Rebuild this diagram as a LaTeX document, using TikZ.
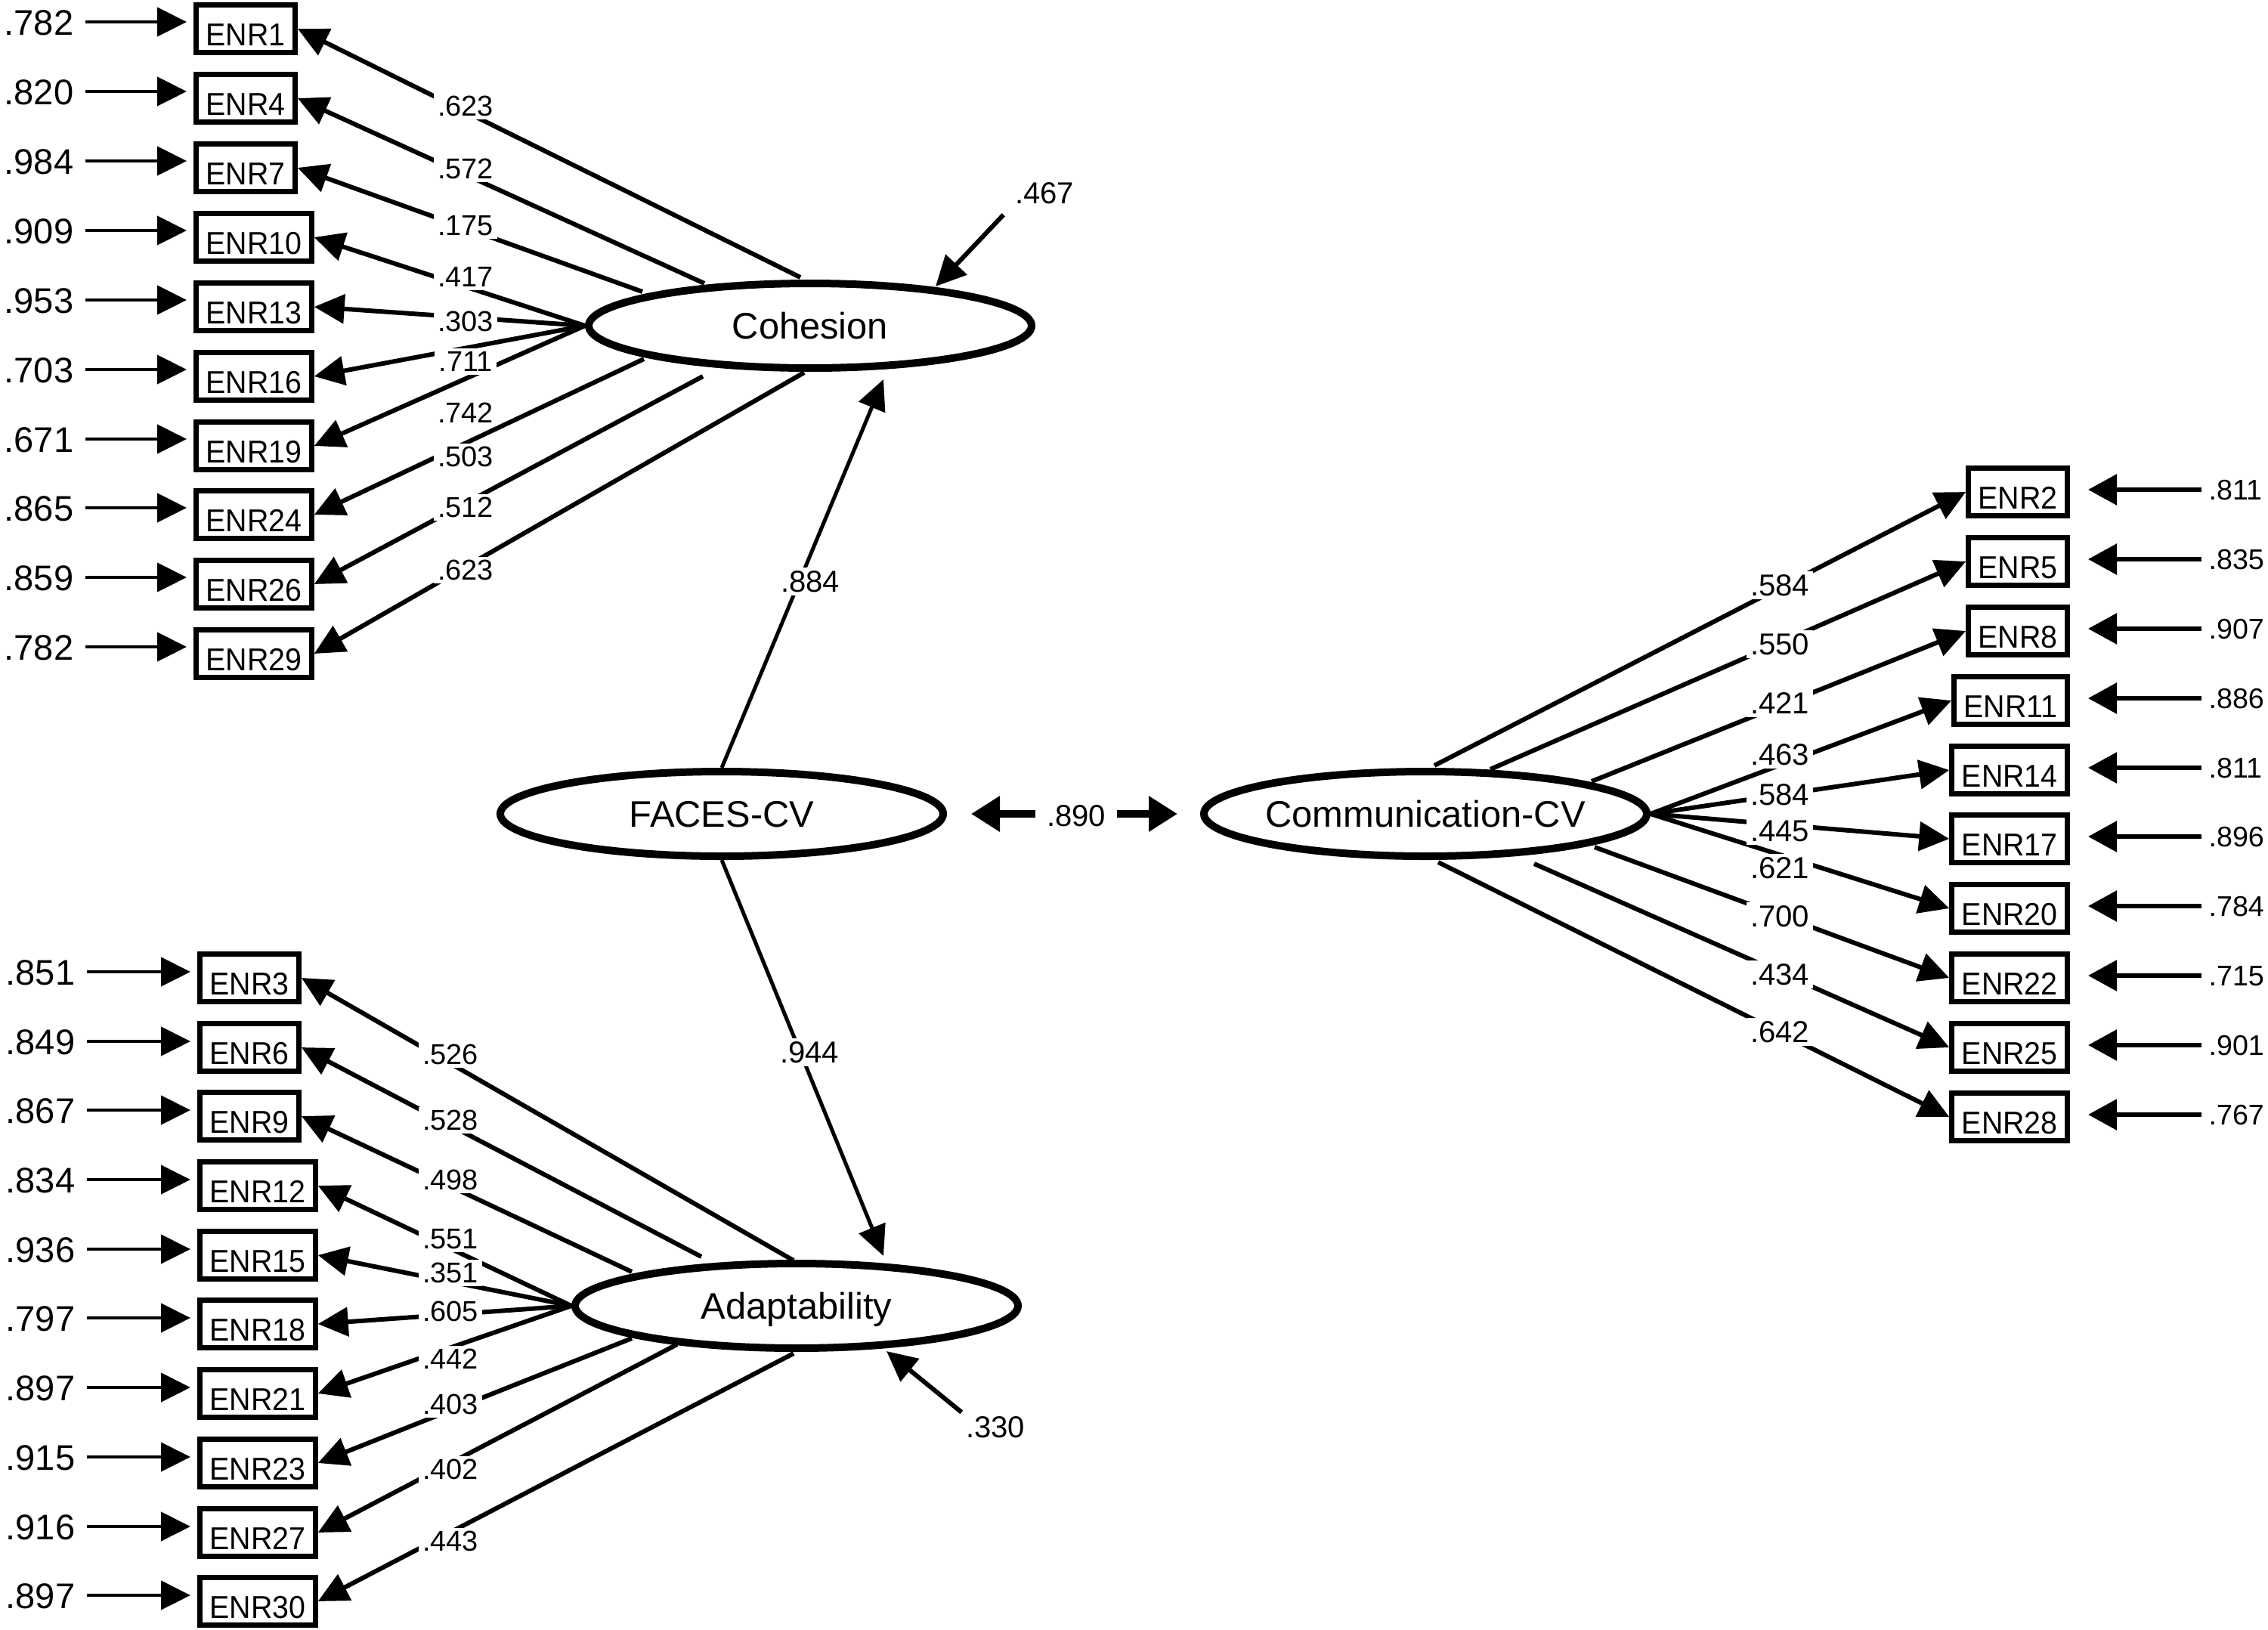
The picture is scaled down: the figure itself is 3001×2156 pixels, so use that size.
\documentclass[tikz,border=0pt]{standalone}
\usepackage{fontspec}
\setmainfont{Liberation Sans}
\newfontfamily\boxfont[FakeStretch=0.94]{Liberation Sans}
\usetikzlibrary{arrows.meta,shapes.geometric,calc}
\begin{document}
\begin{tikzpicture}[x=0.1mm,y=-0.1mm,
  obs/.style={draw,line width=0.7mm,rectangle,minimum height=6.3mm,inner xsep=1.3mm,inner ysep=0pt,text height=4.4mm,text depth=0pt,font=\boxfont\fontsize{11.9}{14}\selectfont},
  lat/.style={draw,line width=1mm,ellipse,minimum width=58.6mm,minimum height=11.2mm,inner sep=0pt,text height=3.5mm,text depth=0pt,font=\fontsize{13.9}{16}\selectfont},
  errL/.style={inner sep=0pt,text height=3.4mm,text depth=0pt,font=\fontsize{13.4}{15}\selectfont},
  errR/.style={inner sep=0pt,text height=2.7mm,text depth=0pt,font=\fontsize{10.7}{13}\selectfont},
  lblL/.style={fill=white,inner xsep=0.5mm,inner ysep=0.4mm,text height=2.7mm,text depth=0pt,font=\fontsize{10.8}{12}\selectfont},
  lblR/.style={fill=white,inner xsep=0.5mm,inner ysep=0.4mm,text height=2.9mm,text depth=0pt,font=\fontsize{11.4}{13}\selectfont},
  ind/.style={line width=0.6mm,-{Triangle[length=4mm,width=3.8mm]}},
  erra/.style={line width=0.45mm,-{Triangle[length=3.9mm,width=3.8mm]},shorten <=1.5mm,shorten >=0.9mm},
  errb/.style={line width=0.6mm,-{Triangle[length=3.8mm,width=4mm]},shorten <=0.9mm,shorten >=2.4mm},
  errc/.style={line width=0.6mm,-{Triangle[length=4mm,width=3.8mm]}},
  str/.style={line width=0.5mm,-{Triangle[length=4mm,width=3.7mm]}},
  cov/.style={line width=1mm,{Triangle[length=3.8mm,width=4.5mm]}-{Triangle[length=3.8mm,width=4.5mm]}},
]
\useasboundingbox (0,0) rectangle (3001,2156);

% latent variables
\node[lat] (coh)   at (1072,431)  {\makebox[0pt]{Cohesion}};
\node[lat] (faces) at (955,1077)  {\makebox[0pt]{FACES-CV}};
\node[lat] (comm)  at (1886,1077) {\makebox[0pt]{Communication-CV}};
\node[lat] (ada)   at (1054,1728) {\makebox[0pt]{Adaptability}};

% Cohesion indicators
\foreach \n/\yy/\ev in {1/38/.782,4/130/.820,7/222/.984,10/314/.909,13/406/.953,16/498/.703,19/590/.671,24/681/.865,26/773/.859,29/865/.782}{
  \node[obs,anchor=west] (b\n) at (256,\yy) {ENR\n};
  \node[errL,anchor=east] (e\n) at (98,\yy-9) {\ev};
  \draw[erra] (e\n) -- (e\n -| b\n.west);
}
% Adaptability indicators
\foreach \n/\yy/\ev in {3/1294/.851,6/1386/.849,9/1477/.867,12/1569/.834,15/1661/.936,18/1752/.797,21/1844/.897,23/1936/.915,27/2028/.916,30/2119/.897}{
  \node[obs,anchor=west] (b\n) at (261,\yy) {ENR\n};
  \node[errL,anchor=east] (e\n) at (100,\yy-8) {\ev};
  \draw[erra] (e\n) -- (e\n -| b\n.west);
}
% Communication indicators
\foreach \n/\yy/\ev in {2/651/.811,5/743/.835,8/835/.907,11/927/.886,14/1019/.811,17/1110/.896,20/1202/.784,22/1294/.715,25/1386/.901,28/1478/.767}{
  \node[obs,anchor=east] (b\n) at (2739,\yy) {ENR\n};
  \node[errR,anchor=west] (e\n) at (2922,\yy-3) {\ev};
  \draw[errb] (e\n) -- (e\n -| b\n.east);
}

% start points on the ellipses
\coordinate (c1) at (1059,367);
\coordinate (c4) at (932,375);
\coordinate (c7) at (850,386);
\coordinate (c24) at (852,475);
\coordinate (c26) at (930,498);
\coordinate (c29) at (1064,493);
\coordinate (a3) at (1050,1668);
\coordinate (a6) at (928,1663);
\coordinate (a9) at (836,1683);
\coordinate (a23) at (836,1771);
\coordinate (a27) at (896,1779);
\coordinate (a30) at (1050,1791);
\coordinate (m2) at (1898,1013);
\coordinate (m5) at (1972,1018);
\coordinate (m8) at (2106,1034);
\coordinate (m22) at (2110,1121);
\coordinate (m25) at (2030,1143);
\coordinate (m28) at (1903,1141);

% loadings
\foreach \n in {1,4,7,24,26,29} \draw[ind] (c\n) -- (b\n.east);
\foreach \n in {10,13,16,19} \draw[ind] (coh.west) -- (b\n.east);
\foreach \n in {3,6,9,23,27,30} \draw[ind] (a\n) -- (b\n.east);
\foreach \n in {12,15,18,21} \draw[ind] (ada.west) -- (b\n.east);
\foreach \n in {2,5,8,22,25,28} \draw[ind] (m\n) -- (b\n.west);
\foreach \n in {11,14,17,20} \draw[ind] (comm.east) -- (b\n.west);

% structural paths
\coordinate (cohIn) at (1169,502);
\coordinate (adaIn) at (1169,1662);
\draw[str] (faces.north) -- (cohIn);
\draw[str] (faces.south) -- (adaIn);
\draw[cov,shorten <=3.2mm,shorten >=3mm] (faces.east) -- (comm.west);

% disturbances
\node[lblR,fill=none] (d467) at (1382,255) {.467};
\node[lblR,fill=none] (d330) at (1317,1888) {.330};
\coordinate (cohErr) at (1238,379);
\coordinate (adaErr) at (1173,1788);
\draw[errc] ([xshift=-0.95mm,yshift=-1mm]d467.south west) -- (cohErr);
\draw[errc] (d330.north west) -- (adaErr);

% loading labels
\foreach \v/\yy [count=\i] in {.623/140,.572/223,.175/298,.417/366,.303/425,.711/478,.742/546,.503/604,.512/671,.623/754}
  \node[lblL] (lc\i) at (616,\yy) {\v};
\foreach \v/\yy [count=\i] in {.526/1395,.528/1482,.498/1561,.551/1639,.351/1684,.605/1735,.442/1798,.403/1858,.402/1944,.443/2039}
  \node[lblL] (la\i) at (596,\yy) {\v};
\foreach \v/\yy [count=\i] in {.584/774,.550/852,.421/930,.463/998,.584/1051,.445/1099,.621/1148,.700/1212,.434/1289,.642/1365}
  \node[lblR] (lm\i) at (2355,\yy) {\v};
\node[lblR] (l884) at (1072,769) {.884};
\node[lblR] (l944) at (1071,1392) {.944};
\node[lblR,inner xsep=1.5mm] (l890) at (1424,1079) {.890};
\end{tikzpicture}
\end{document}
